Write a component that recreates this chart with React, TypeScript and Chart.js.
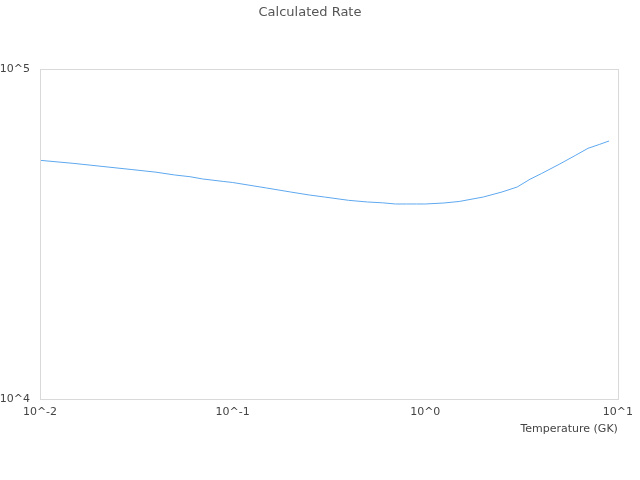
import React, { useEffect, useRef } from "react";
import { Chart, registerables } from "chart.js";

Chart.register(...registerables);

const temperatures = [
  0.01, 0.015, 0.02, 0.03, 0.04, 0.05, 0.06, 0.07, 0.08, 0.09, 0.1, 0.15, 0.2,
  0.25, 0.3, 0.4, 0.5, 0.6, 0.7, 0.8, 0.9, 1.0, 1.25, 1.5, 2, 2.5, 3, 3.5, 4,
  5, 6, 7, 8, 9,
];
const rates = [
  52880, 51750, 50830, 49570, 48680, 47740, 47170, 46420, 45990, 45610, 45300,
  43590, 42390, 41510, 40930, 40000, 39540, 39310, 38990, 38990, 38990, 38990,
  39260, 39680, 40930, 42390, 43890, 46350, 48170, 51570, 54680, 57510, 59050,
  60520,
];
const xTicks = [0.01, 0.1, 1, 10];
const yTicks = [10000, 100000];

const chartTitle = "Calculated Rate";
const xTitle = "Temperature (GK)";

const fmt = (v: number) => "10^" + Math.round(Math.log10(v));

const borderPlugin = {
  id: "frameBorder",
  afterDraw(chart: any) {
    const { ctx, chartArea } = chart;
    ctx.save();
    ctx.strokeStyle = "#d9d9d9";
    ctx.lineWidth = 1;
    ctx.strokeRect(
      Math.round(chartArea.left) + 0.5,
      Math.round(chartArea.top) + 0.5,
      Math.round(chartArea.right - chartArea.left),
      Math.round(chartArea.bottom - chartArea.top)
    );
    ctx.restore();
  },
};

export default function App() {
  const ref = useRef<HTMLCanvasElement>(null);
  useEffect(() => {
    if (!ref.current) return;
    Chart.defaults.font.family = "'DejaVu Sans', sans-serif";
    const chart = new Chart(ref.current, {
      type: "line",
      data: {
        datasets: [
          {
            label: "Rate",
            data: temperatures.map((t, i) => ({ x: t, y: rates[i] })),
            borderColor: "#5ea8ef",
            backgroundColor: "#5ea8ef",
            borderWidth: 1,
            pointRadius: 0,
            tension: 0,
            fill: false,
          },
        ],
      },
      options: {
        animation: false,
        responsive: false,
        maintainAspectRatio: false,
        layout: { padding: { left: 0, right: 20, top: 0, bottom: 0 } },
        plugins: {
          legend: { display: false },
          tooltip: { enabled: false },
          title: {
            display: true,
            text: chartTitle,
            color: "#555",
            font: { size: 13, weight: "normal" },
            padding: { top: 5, bottom: 48.4 },
          },
        },
        scales: {
          x: {
            type: "logarithmic",
            min: 0.01,
            max: 10,
            grid: { display: false, drawTicks: false, tickLength: 0 },
            border: { display: false },
            afterBuildTicks: (scale: any) => {
              scale.ticks = xTicks.map((v) => ({ value: v }));
            },
            afterFit: (scale: any) => {
              scale.height = 81;
            },
            ticks: {
              color: "#444",
              font: { size: 11 },
              padding: 7,
              maxRotation: 0,
              autoSkip: false,
              callback: (v: any) => fmt(Number(v)),
            },
            title: {
              display: true,
              text: xTitle,
              align: "end",
              color: "#444",
              font: { size: 11 },
              padding: { top: 4, bottom: 44 },
            },
          },
          y: {
            type: "logarithmic",
            min: 10000,
            max: 100000,
            grid: { display: false, drawTicks: false, tickLength: 0 },
            border: { display: false },
            afterBuildTicks: (scale: any) => {
              scale.ticks = yTicks.map((v) => ({ value: v }));
            },
            afterFit: (scale: any) => {
              scale.width = 40;
            },
            ticks: {
              color: "#444",
              font: { size: 11 },
              padding: 10,
              autoSkip: false,
              callback: (v: any) => fmt(Number(v)),
            },
          },
        },
      },
      plugins: [borderPlugin],
    } as any);
    return () => chart.destroy();
  }, []);
  return (
    <div style={{ position: "fixed", left: 0, top: 0, width: 640, height: 480, background: "#fff" }}>
      <canvas ref={ref} width={640} height={480} style={{ width: 640, height: 480, display: "block" }} />
    </div>
  );
}
